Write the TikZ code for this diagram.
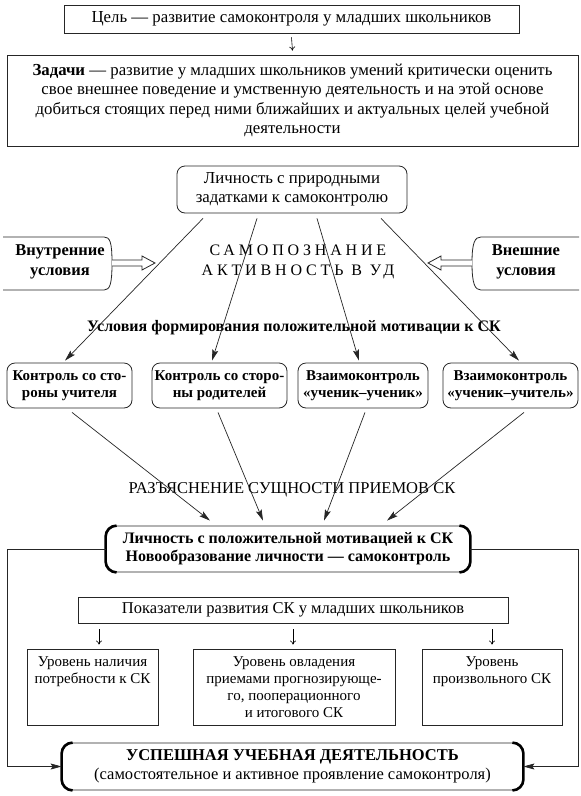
\documentclass[tikz,border=0pt]{standalone}
\usepackage{fontspec}
\setmainfont{Liberation Serif}
\usetikzlibrary{arrows.meta,calc}
\newcommand\fsz[2]{\fontsize{#1}{#2}\selectfont}
\newcommand\brsides[2]{%
  \draw[line width=2.6pt] ($(#1.north west)+(#2,0)$) .. controls ($(#1.north west)+(0.45*#2,0)$) and ($(#1.north west)+(0,0.45*#2)$) .. ($(#1.north west)+(0,#2)$) -- ($(#1.south west)+(0,-#2)$) .. controls ($(#1.south west)+(0,-0.45*#2)$) and ($(#1.south west)+(0.45*#2,0)$) .. ($(#1.south west)+(#2,0)$);
  \draw[line width=2.6pt] ($(#1.north east)+(-#2,0)$) .. controls ($(#1.north east)+(-0.45*#2,0)$) and ($(#1.north east)+(0,0.45*#2)$) .. ($(#1.north east)+(0,#2)$) -- ($(#1.south east)+(0,-#2)$) .. controls ($(#1.south east)+(0,-0.45*#2)$) and ($(#1.south east)+(-0.45*#2,0)$) .. ($(#1.south east)+(-#2,0)$);
}
\tikzset{
  ln/.style={line width=0.8pt, draw=black!85},
  frame/.style={ln, inner sep=0pt, align=center},
  rbox/.style={frame, rounded corners=8pt},
  arr/.style={line width=0.7pt, draw=black!85, -{Stealth[length=11pt,width=6pt,inset=2pt]}},
  sarr/.style={line width=0.6pt, -{To[length=4pt,width=6pt]}},
  plain/.style={inner sep=0pt, align=center},
}
\begin{document}
\begin{tikzpicture}[x=1pt,y=-1pt]
\useasboundingbox (0,0) rectangle (581,796);
\fill[white] (0,0) rectangle (581,796);

% top
\node[frame, minimum width=455pt, minimum height=28pt, font=\fsz{16.8}{20}] (goal) at (291.5,19) {Цель — развитие самоконтроля у младших школьников};
\node[frame, minimum width=571pt, minimum height=91pt, font=\fsz{16.8}{19.5}] (tasks) at (292.5,100.5)
 {\textbf{Задачи} — развитие у младших школьников умений критически оценить\\
  свое внешнее поведение и умственную деятельность и на этой основе\\
  добиться стоящих перед ними ближайших и актуальных целей учебной\\
  деятельности};
\draw[sarr] ($(goal.south)+(0,4)$) -- ($(tasks.north)+(0,-4)$);

% personality
\node[rbox, minimum width=230pt, minimum height=47pt, font=\fsz{16.8}{19}] (pers) at (292,189.5) {Личность с природными\\задатками к самоконтролю};

% side shapes
\draw[ln] (3,237) -- (104,237) .. controls (110,237) and (112,242) .. (112,263) .. controls (112,284) and (110,290) .. (104,290) -- (3,290);
\node[plain, font=\bfseries\fsz{16.5}{20}] (inner) at (60,262) {Внутренние\\условия};
\draw[ln, fill=white] (112,260) -- (142,260) -- (142,256) -- (155,263) -- (142,270) -- (142,266) -- (112,266);

\draw[ln] (579,237) -- (481,237) .. controls (475,237) and (472,242) .. (472,263) .. controls (472,284) and (475,290) .. (481,290) -- (579,290);
\node[plain, font=\bfseries\fsz{16.5}{20}] (outer) at (526,262) {Внешние\\условия};
\draw[ln, fill=white] (472,260) -- (441,260) -- (441,256) -- (428,263) -- (441,270) -- (441,266) -- (472,266);

\node[plain, font=\fsz{16}{20}\addfontfeature{LetterSpace=24}] (self) at (298,262) {САМОПОЗНАНИЕ\\АКТИВНОСТЬ В УД};
\node[plain, font=\bfseries\fsz{16}{19}] (cond) at (294,328) {Условия формирования положительной мотивации к СК};

% four boxes
\node[rbox, minimum width=125pt, minimum height=45pt, font=\bfseries\fsz{15}{17}] (c1) at (69.5,385.5) {Контроль со сто-\\роны учителя};
\node[rbox, minimum width=135pt, minimum height=45pt, font=\bfseries\fsz{15}{17}] (c2) at (219.5,385.5) {Контроль со сторо-\\ны родителей};
\node[rbox, minimum width=130pt, minimum height=45pt, font=\bfseries\fsz{15}{17}] (c3) at (363,385.5) {Взаимоконтроль\\«ученик–ученик»};
\node[rbox, minimum width=135pt, minimum height=45pt, font=\bfseries\fsz{15}{17}] (c4) at (510.5,385.5) {Взаимоконтроль\\«ученик–учитель»};

\draw[arr] ($(pers.south)+(-89,5)$) -- ($(c1.north)+(-4.5,-2)$);
\draw[arr] ($(pers.south)+(-35,5)$) -- ($(c2.north)+(-7.5,-2)$);
\draw[arr] ($(pers.south)+(25,5)$) -- ($(c3.north)+(-4,-2)$);
\draw[arr] ($(pers.south)+(89,5)$) -- ($(c4.north)+(8.5,-2)$);

\node[plain, font=\fsz{16.5}{20}] (expl) at (292,490) {РАЗЪЯСНЕНИЕ СУЩНОСТИ ПРИЕМОВ СК};

% middle box
\node[frame, rounded corners=11pt, minimum width=364pt, minimum height=46pt, font=\bfseries\fsz{16}{18}] (mid) at (288,549) {Личность с положительной мотивацией к СК\\Новообразование личности — самоконтроль};
\brsides{mid}{11}

\draw[arr] ($(c1.south)+(2.5,4)$) -- ($(mid.north)+(-78,-5)$);
\draw[arr] ($(c2.south)+(-1.5,4)$) -- ($(mid.north)+(-25,-5)$);
\draw[arr] ($(c3.south)+(2,4)$) -- ($(mid.north)+(36,-5)$);
\draw[arr] ($(c4.south)+(13.5,4)$) -- ($(mid.north)+(99,-5)$);

% indicators
\node[frame, minimum width=430pt, minimum height=26pt, font=\fsz{16.5}{20}] (ind) at (293,610) {Показатели развития СК у младших школьников};
\node[frame, minimum width=131pt, minimum height=76pt, font=\fsz{15}{17}] (l1) at (92.5,687) {Уровень наличия\\потребности к СК\\\mbox{}\\\mbox{}};
\node[frame, minimum width=202pt, minimum height=76pt, font=\fsz{15}{17}] (l2) at (294,687) {Уровень овладения\\приемами прогнозирующе-\\го, пооперационного\\и итогового СК};
\node[frame, minimum width=140pt, minimum height=76pt, font=\fsz{15}{17}] (l3) at (492,687) {Уровень\\произвольного СК\\\mbox{}\\\mbox{}};
\draw[sarr] ($(ind.south -| l1.north)+(6.5,6)$) -- ($(l1.north)+(6.5,-4)$);
\draw[sarr] ($(ind.south -| l2.north)+(-1,6)$) -- ($(l2.north)+(-1,-4)$);
\draw[sarr] ($(ind.south -| l3.north)+(0,6)$) -- ($(l3.north)+(0,-4)$);

% bottom box
\node[frame, rounded corners=11pt, minimum width=461pt, minimum height=47pt, font=\fsz{16.5}{19}] (succ) at (292.5,766.5) {\textbf{УСПЕШНАЯ УЧЕБНАЯ ДЕЯТЕЛЬНОСТЬ}\\(самостоятельное и активное проявление самоконтроля)};
\brsides{succ}{11}

\coordinate (fl) at (7,766.5);
\coordinate (fr) at (578,766.5);
\draw[arr] (mid.west) -| (fl) -- (succ.west);
\draw[arr] (mid.east) -| (fr) -- (succ.east);
\end{tikzpicture}
\end{document}
